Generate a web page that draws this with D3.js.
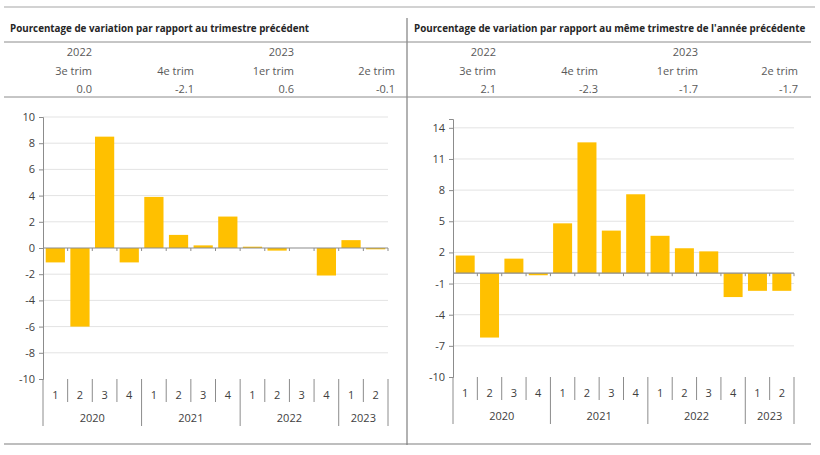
<!DOCTYPE html>
<html>
<head>
<meta charset="utf-8">
<script src="https://cdn.jsdelivr.net/npm/d3@7"></script>
<style>
  body { margin: 0; background: #fff; }
  text { font-family: "Open Sans", sans-serif; }
</style>
</head>
<body>
<div id="chart"></div>
<script>
// quarters and year groups on the category axis
const quarters = ["1", "2", "3", "4", "1", "2", "3", "4", "1", "2", "3", "4", "1", "2"];
const years = ["2020", "2021", "2022", "2023"];
const quartersPerYear = [4, 4, 4, 2];

// quarter-on-quarter and year-on-year changes (%)
const qoqValues = [-1.1, -6.0, 8.5, -1.1, 3.9, 1.0, 0.2, 2.4, 0.1, -0.2, 0.0, -2.1, 0.6, -0.1];
const yoyValues = [1.7, -6.2, 1.4, -0.2, 4.8, 12.6, 4.1, 7.6, 3.6, 2.4, 2.1, -2.3, -1.7, -1.7];

// summary table above each chart
const tableYears = ["2022", "", "2023", ""];
const tableQuarters = ["3e trim", "4e trim", "1er trim", "2e trim"];
const qoqSummary = ["0.0", "-2.1", "0.6", "-0.1"];
const yoySummary = ["2.1", "-2.3", "-1.7", "-1.7"];

const qoqTicks = [-10, -8, -6, -4, -2, 0, 2, 4, 6, 8, 10];
const yoyTicks = [-10, -7, -4, -1, 2, 5, 8, 11, 14];

const svg = d3.select("#chart").append("svg")
    .attr("width", 820)
    .attr("height", 455);

const barColor = "#FFC000";
const gridColor = "#e3e3e3";
const axisColor = "#8c8c8c";
const textColor = "#404040";

// frame lines
svg.append("line").attr("x1", 4).attr("x2", 815).attr("y1", 7).attr("y2", 7)
    .attr("stroke", "#a6a6a6").attr("stroke-width", 1.2);
svg.append("line").attr("x1", 407).attr("x2", 407).attr("y1", 18).attr("y2", 445)
    .attr("stroke", "#7f7f7f").attr("stroke-width", 1.2);

function drawPanel(p) {
    const g = svg.append("g");

    // title + table
    g.append("text")
        .attr("x", p.titleX).attr("y", 32)
        .attr("font-size", 9.8).attr("font-weight", "bold").attr("fill", "#262626")
        .text(p.title);
    g.append("line").attr("x1", p.left).attr("x2", p.right).attr("y1", 42).attr("y2", 42)
        .attr("stroke", "#8c8c8c").attr("stroke-width", 1);
    g.append("line").attr("x1", p.left).attr("x2", p.right).attr("y1", 97).attr("y2", 97)
        .attr("stroke", "#8c8c8c").attr("stroke-width", 1);

    const rows = [[tableYears, 56], [tableQuarters, 75], [p.summary, 93]];
    rows.forEach(([vals, y]) => {
        g.selectAll(null).data(vals).enter().append("text")
            .attr("x", (d, i) => p.colRight[i])
            .attr("y", y)
            .attr("text-anchor", "end")
            .attr("font-size", 11)
            .attr("fill", "#595959")
            .text(d => d);
    });

    // scales
    const x = d3.scaleBand()
        .domain(d3.range(quarters.length))
        .range([p.x0, p.x1])
        .paddingInner(0.22)
        .paddingOuter(0.11);
    const y = d3.scaleLinear().domain(p.domain).range([p.yBottom, p.yTop]);

    // grid
    g.selectAll(null).data(p.ticks.filter(t => t !== 0 && t !== p.domain[0])).enter().append("line")
        .attr("x1", p.x0).attr("x2", p.x1)
        .attr("y1", d => y(d)).attr("y2", d => y(d))
        .attr("stroke", gridColor).attr("stroke-width", 1);

    // bars
    g.selectAll(null).data(p.values).enter().append("rect")
        .attr("x", (d, i) => x(i))
        .attr("width", x.bandwidth())
        .attr("y", d => y(Math.max(0, d)))
        .attr("height", d => Math.abs(y(d) - y(0)))
        .attr("fill", barColor);

    // y axis
    const yAxis = g.append("g")
        .attr("transform", `translate(${p.x0},0)`)
        .call(d3.axisLeft(y).tickValues(p.ticks).tickFormat(d => String(d)).tickSize(4).tickPadding(4));
    yAxis.select(".domain").attr("stroke", axisColor);
    yAxis.selectAll(".tick line").attr("stroke", axisColor);
    yAxis.selectAll(".tick text").attr("font-size", 11).attr("fill", textColor)
        .attr("font-family", "Open Sans, sans-serif");

    // zero line with small ticks at band edges
    const edges = d3.range(quarters.length + 1).map(i => p.x0 + i * (p.x1 - p.x0) / quarters.length);
    g.append("line").attr("x1", p.x0).attr("x2", p.x1).attr("y1", y(0)).attr("y2", y(0))
        .attr("stroke", axisColor).attr("stroke-width", 1.2);
    g.selectAll(null).data(edges.slice(1)).enter().append("line")
        .attr("x1", d => d).attr("x2", d => d)
        .attr("y1", y(0)).attr("y2", y(0) + 3)
        .attr("stroke", axisColor);

    // category axis: quarters then years
    const yearEdges = [0];
    quartersPerYear.forEach(n => yearEdges.push(yearEdges[yearEdges.length - 1] + n));
    edges.forEach((ex, i) => {
        const isYear = yearEdges.includes(i);
        g.append("line")
            .attr("x1", ex).attr("x2", ex)
            .attr("y1", p.yBottom).attr("y2", p.yBottom + (isYear ? 47 : 23))
            .attr("stroke", axisColor).attr("stroke-width", 1);
    });
    g.selectAll(null).data(quarters).enter().append("text")
        .attr("x", (d, i) => (edges[i] + edges[i + 1]) / 2)
        .attr("y", p.yBottom + 20)
        .attr("text-anchor", "middle")
        .attr("font-size", 11).attr("fill", textColor)
        .text(d => d);
    g.selectAll(null).data(years).enter().append("text")
        .attr("x", (d, i) => (edges[yearEdges[i]] + edges[yearEdges[i + 1]]) / 2)
        .attr("y", p.yBottom + 43)
        .attr("text-anchor", "middle")
        .attr("font-size", 11).attr("fill", textColor)
        .text(d => d);

    // bottom line
    g.append("line").attr("x1", p.left).attr("x2", p.right).attr("y1", 444).attr("y2", 444)
        .attr("stroke", "#7f7f7f").attr("stroke-width", 1.2);
}

drawPanel({
    title: "Pourcentage de variation par rapport au trimestre précédent",
    titleX: 10, left: 4, right: 407,
    colRight: [92, 194, 294, 395],
    summary: qoqSummary,
    values: qoqValues,
    ticks: qoqTicks,
    domain: [-10, 10],
    x0: 43, x1: 388, yTop: 117, yBottom: 379
});

drawPanel({
    title: "Pourcentage de variation par rapport au même trimestre de l'année précédente",
    titleX: 414, left: 407, right: 811,
    colRight: [496, 598, 698, 798],
    summary: yoySummary,
    values: yoyValues,
    ticks: yoyTicks,
    domain: [-10, 14.85],
    x0: 453, x1: 794, yTop: 119, yBottom: 377
});
</script>
</body>
</html>
